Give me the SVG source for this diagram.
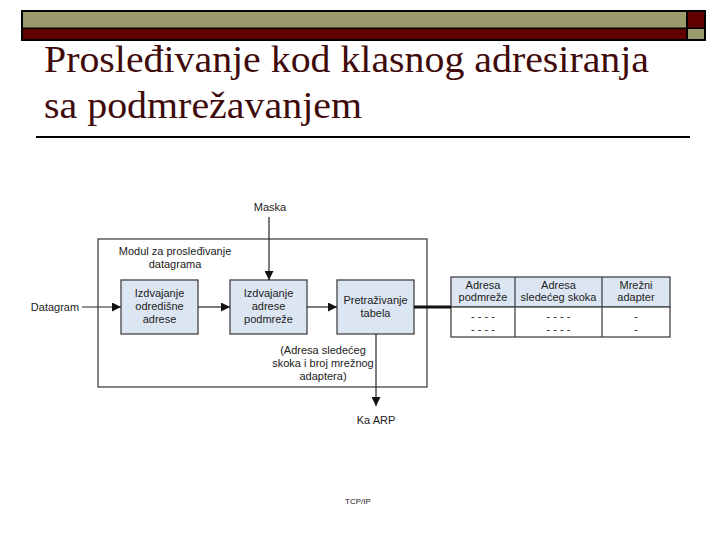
<svg xmlns="http://www.w3.org/2000/svg" width="720" height="540" viewBox="0 0 720 540">
<style>
.t{font-family:"Liberation Sans",Arial,sans-serif;font-size:11px;fill:#222;text-anchor:middle}
.title{font-family:"Liberation Serif","Times New Roman",serif;font-size:38px;fill:#3f0a0a}
.box{fill:#dce6f2;stroke:#444;stroke-width:1.3}
.ln{stroke:#222;stroke-width:1.2;fill:none}
</style>
<defs>
<marker id="ah" viewBox="0 0 10 10" refX="10" refY="5" markerWidth="9" markerHeight="9" markerUnits="userSpaceOnUse" orient="auto">
<path d="M0,0 L10,5 L0,10 z" fill="#111"/>
</marker>
</defs>
<g id="header">
<rect x="21" y="10" width="685" height="31" fill="#000"/>
<rect x="23" y="12" width="663" height="15.5" fill="#9c9b6e"/>
<rect x="23" y="29" width="663" height="10" fill="#620000"/>
<rect x="688" y="12" width="16" height="15.5" fill="#620000"/>
<rect x="688" y="29" width="16" height="10" fill="#9c9b6e"/>
<text class="title" x="44" y="72" textLength="605" lengthAdjust="spacingAndGlyphs">Prosleđivanje kod klasnog adresiranja</text>
<text class="title" x="44" y="118" textLength="318" lengthAdjust="spacingAndGlyphs">sa podmrežavanjem</text>
<line x1="36" y1="137" x2="690" y2="137" stroke="#000" stroke-width="2"/>
</g>
<g id="module">
<rect x="98" y="239" width="329" height="148" fill="none" stroke="#444" stroke-width="1.3"/>
<text class="t" x="175" y="255">Modul za prosleđivanje</text>
<text class="t" x="175" y="268">datagrama</text>
</g>
<g id="box1">
<rect class="box" x="121" y="280" width="77" height="54"/>
<text class="t" x="159.5" y="297">Izdvajanje</text>
<text class="t" x="159.5" y="310">odredišne</text>
<text class="t" x="159.5" y="323">adrese</text>
</g>
<g id="box2">
<rect class="box" x="230" y="280" width="77" height="54"/>
<text class="t" x="268.5" y="297">Izdvajanje</text>
<text class="t" x="268.5" y="310">adrese</text>
<text class="t" x="268.5" y="323">podmreže</text>
</g>
<g id="box3">
<rect class="box" x="337" y="280" width="77" height="54"/>
<text class="t" x="375.5" y="304">Pretraživanje</text>
<text class="t" x="375.5" y="317">tabela</text>
</g>
<g id="labels">
<text class="t" x="55" y="311">Datagram</text>
<text class="t" x="270" y="211">Maska</text>
<text class="t" x="376" y="424">Ka ARP</text>
<text class="t" x="323" y="354">(Adresa sledećeg</text>
<text class="t" x="323" y="367">skoka i broj mrežnog</text>
<text class="t" x="323" y="380">adaptera)</text>
<text x="358" y="504" font-family="Liberation Sans,Arial,sans-serif" font-size="8" fill="#222" text-anchor="middle">TCP/IP</text>
</g>
<g id="table">
<rect x="451" y="277" width="219" height="30" fill="#dce6f2" stroke="#444" stroke-width="1.3"/>
<rect x="451" y="307" width="219" height="30" fill="#fff" stroke="#444" stroke-width="1.3"/>
<line x1="515" y1="277" x2="515" y2="337" stroke="#444" stroke-width="1.3"/>
<line x1="602" y1="277" x2="602" y2="337" stroke="#444" stroke-width="1.3"/>
<text class="t" x="483" y="289">Adresa</text>
<text class="t" x="483" y="301">podmreže</text>
<text class="t" x="558.5" y="289">Adresa</text>
<text class="t" x="558.5" y="301">sledećeg skoka</text>
<text class="t" x="636" y="289">Mrežni</text>
<text class="t" x="636" y="301">adapter</text>
<text class="t" x="483" y="320">- - - -</text>
<text class="t" x="483" y="333">- - - -</text>
<text class="t" x="558.5" y="320">- - - -</text>
<text class="t" x="558.5" y="333">- - - -</text>
<text class="t" x="636" y="320">-</text>
<text class="t" x="636" y="333">-</text>
</g>
<g id="connectors">
<line class="ln" x1="82" y1="307" x2="121" y2="307" marker-end="url(#ah)"/>
<line class="ln" x1="198" y1="307" x2="230" y2="307" marker-end="url(#ah)"/>
<line class="ln" x1="307" y1="307" x2="337" y2="307" marker-end="url(#ah)"/>
<line class="ln" x1="269" y1="217" x2="269" y2="280" marker-end="url(#ah)"/>
<line class="ln" x1="376" y1="334" x2="376" y2="406" marker-end="url(#ah)"/>
<line x1="414" y1="307" x2="451" y2="307" stroke="#111" stroke-width="3"/>
</g>
</svg>
